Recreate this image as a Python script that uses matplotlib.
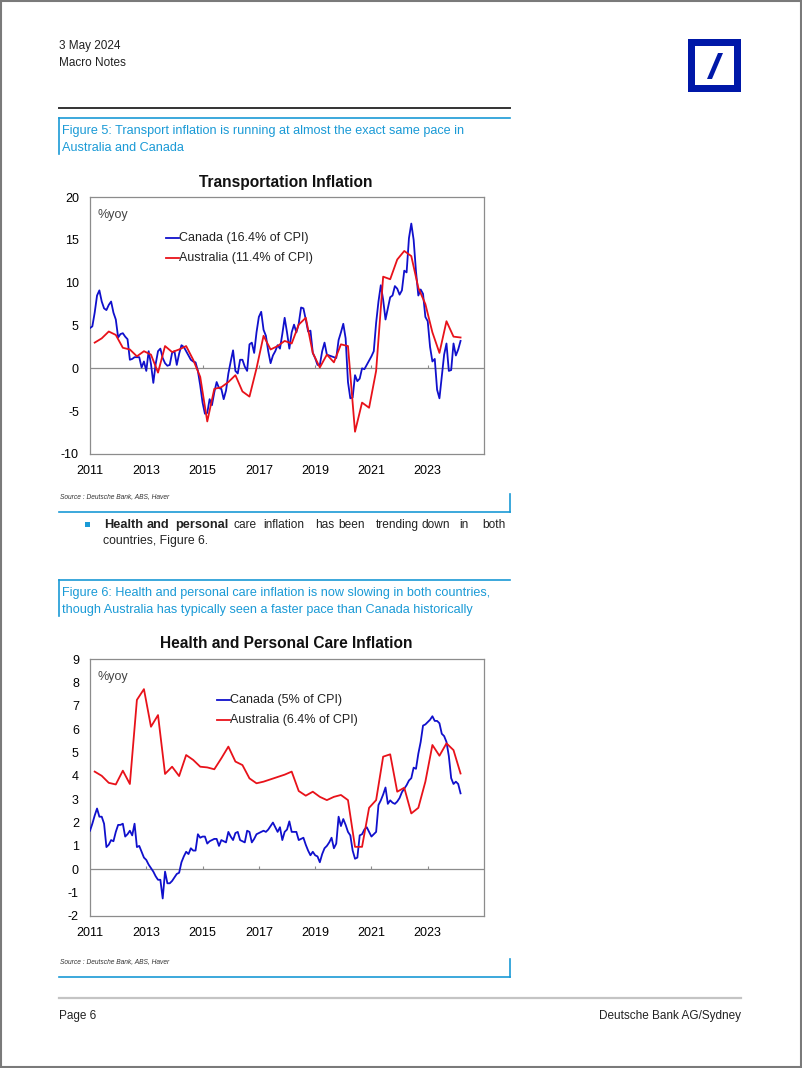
import numpy as np
import matplotlib
matplotlib.use('Agg')
import matplotlib.pyplot as plt
from matplotlib.patches import Rectangle, Polygon

# ---- data ----
# Canada: monthly, Jan 2011 - Mar 2024
canada_transport = [
    4.7, 4.9, 6.5, 8.5, 9.1, 7.8, 7.0, 6.8, 7.4, 7.8, 6.5, 5.7,
    3.6, 4.0, 4.1, 3.7, 3.4, 1.0, 1.1, 1.3, 1.3, 1.3, 0.1, 0.8,
    -0.3, 2.0, 0.5, -1.7, 0.5, 2.0, 2.3, 1.2, 0.6, 0.3, 0.4, 1.8,
    2.0, 0.4, 1.7, 2.7, 2.5, 2.0, 1.5, 1.0, 0.8, 0.7, -0.3, -2.0,
    -4.0, -5.3, -5.2, -3.6, -4.3, -2.8, -1.6, -2.3, -2.4, -3.6, -2.6, -0.6,
    0.8, 2.1, -0.3, -0.6, 1.0, 1.0, 0.2, -0.3, 2.8, 3.0, 1.8, 4.2,
    6.0, 6.6, 4.5, 3.8, 2.0, 0.6, 1.5, 2.0, 2.7, 2.3, 4.0, 5.9,
    4.2, 2.3, 4.2, 5.1, 4.2, 5.2, 7.1, 7.0, 5.7, 4.3, 4.4, 1.8,
    1.2, 0.4, 0.4, 2.0, 3.0, 1.6, 1.5, 1.4, 1.3, 1.2, 3.3, 4.2,
    5.2, 3.5, -1.6, -3.5, -3.4, -0.8, -1.5, -1.2, 0.0, -0.1, 0.4, 0.9,
    1.4, 2.0, 5.3, 7.8, 9.7, 8.0, 5.7, 7.0, 8.3, 8.5, 9.6, 9.3,
    8.6, 9.1, 11.4, 11.2, 15.2, 16.9, 15.0, 11.3, 8.5, 9.2, 8.7, 6.0,
    5.5, 2.5, 0.8, 1.1, -2.5, -3.5, -1.0, 1.6, 2.9, -0.3, -0.2, 2.9,
    1.5, 2.2, 3.2,
]
canada_health = [
    1.65, 1.95, 2.3, 2.6, 2.25, 2.25, 1.95, 0.95, 1.05, 1.25, 1.2, 1.6,
    1.9, 1.9, 1.95, 1.4, 1.5, 1.65, 1.45, 1.95, 0.95, 1.0, 0.75, 0.5,
    0.4, 0.2, 0.05, -0.1, -0.3, -0.45, -0.45, -1.25, -0.1, -0.6, -0.6, -0.5,
    -0.35, -0.2, -0.15, 0.3, 0.55, 0.75, 0.65, 0.9, 0.8, 0.8, 1.5, 1.35,
    1.4, 1.4, 1.1, 1.2, 1.25, 1.3, 1.3, 1.0, 1.25, 1.2, 1.15, 1.6,
    1.4, 1.25, 1.55, 1.6, 1.25, 1.2, 1.15, 1.65, 1.6, 1.15, 1.3, 1.5,
    1.55, 1.6, 1.65, 1.6, 1.7, 1.85, 2.0, 1.8, 1.6, 1.8, 1.25, 1.6,
    1.7, 2.05, 1.6, 1.6, 1.6, 1.25, 1.3, 1.35, 1.05, 0.8, 0.6, 0.75,
    0.6, 0.55, 0.3, 0.65, 0.9, 1.0, 1.15, 1.35, 0.9, 1.1, 2.25, 1.85,
    2.15, 1.9, 1.6, 1.45, 0.8, 0.45, 0.5, 1.45, 1.5, 1.7, 1.8, 1.6,
    1.4, 1.5, 1.6, 2.75, 2.95, 3.2, 3.5, 2.8, 2.95, 2.85, 2.8, 2.9,
    3.05, 3.3, 3.45, 3.6, 3.8, 3.9, 4.35, 4.3, 4.95, 5.45, 6.15, 6.2,
    6.3, 6.4, 6.55, 6.35, 6.35, 6.25, 5.8, 5.7, 5.45, 4.85, 3.9, 3.65,
    3.75, 3.65, 3.25,
]
# Australia: quarterly, Mar 2011 - Mar 2024
australia_transport = [
    3.0, 3.5, 4.3, 3.9, 2.4, 2.2, 1.4, 2.0, 1.6, -0.5, 2.6, 1.9,
    2.2, 2.6, 1.0, -1.0, -6.2, -2.4, -2.2, -1.6, -0.8, -2.7, -3.3, 0.0,
    3.8, 2.2, 2.6, 3.2, 2.9, 5.1, 5.9, 1.8, 0.1, 1.6, 0.7, 2.8,
    2.6, -7.4, -4.0, -4.6, -0.3, 10.7, 10.4, 12.7, 13.7, 13.1, 9.4, 7.5,
    4.2, 1.8, 5.5, 3.7, 3.6,
]
australia_health = [
    4.18, 4.0, 3.7, 3.63, 4.22, 3.65, 7.25, 7.71, 6.1, 6.6, 4.08, 4.39,
    3.99, 4.89, 4.68, 4.39, 4.36, 4.28, 4.75, 5.25, 4.61, 4.46, 3.89, 3.68,
    3.75, 3.85, 3.95, 4.05, 4.18, 3.35, 3.15, 3.32, 3.1, 2.96, 3.1, 3.18,
    2.96, 0.96, 0.96, 2.63, 2.96, 4.82, 4.92, 3.32, 3.49, 2.39, 2.63, 3.75,
    5.32, 4.86, 5.39, 5.1, 4.1,
]
year_ticks = [2011, 2013, 2015, 2017, 2019, 2021, 2023]

canada_x = 2011 + np.arange(len(canada_transport)) / 12
australia_x = 2011 + (2 + 3 * np.arange(len(australia_transport))) / 12

W, H = 802, 1068
BLUE_TXT = '#1a9ad6'
LINE_BLUE = '#1010cc'
LINE_RED = '#e8121a'
GREY = '#8c8c8c'

plt.rcParams['font.family'] = ['Liberation Sans', 'DejaVu Sans']

fig = plt.figure(figsize=(W / 100, H / 100), dpi=100)


def fx(x):
    return x / W


def fy(y):
    return 1 - y / H


def ftext(x, y, s, **kw):
    kw.setdefault('va', 'center')
    fig.text(fx(x), fy(y), s, **kw)


def fline(x0, y0, x1, y1, color, lw):
    fig.add_artist(plt.Line2D([fx(x0), fx(x1)], [fy(y0), fy(y1)],
                              color=color, lw=lw, transform=fig.transFigure))


# page border
fig.add_artist(Rectangle((0.001, 0.001), 0.998, 0.998, fill=False,
                         ec='#7a7a7a', lw=1.5, transform=fig.transFigure))

# header
ftext(59, 46, '3 May 2024', fontsize=8.5, color='#222222')
ftext(59, 63, 'Macro Notes', fontsize=8.5, color='#222222')

# logo
fig.add_artist(Rectangle((fx(688), fy(92)), fx(741) - fx(688), fy(39) - fy(92),
                         fc='#0018a8', ec='none', transform=fig.transFigure))
fig.add_artist(Rectangle((fx(695), fy(85)), fx(734) - fx(695), fy(46) - fy(85),
                         fc='white', ec='none', transform=fig.transFigure))
fig.add_artist(Polygon([(fx(707), fy(79)), (fx(712), fy(79)), (fx(723), fy(53)), (fx(718), fy(53))],
                       closed=True, fc='#0018a8', ec='none', transform=fig.transFigure))

fline(59, 108, 510, 108, '#333333', 1.4)


def caption_box(ytop, lines):
    fline(59, ytop, 510, ytop, BLUE_TXT, 1.2)
    fline(59, ytop, 59, ytop + 36, BLUE_TXT, 1.2)
    for k, s in enumerate(lines):
        ftext(62, ytop + 13 + 17 * k, s, fontsize=9.1, color=BLUE_TXT)


def source_box(ysrc):
    ftext(60, ysrc, 'Source : Deutsche Bank, ABS, Haver', fontsize=4.8,
          style='italic', color='#333333')
    fline(510, ysrc - 3, 510, ysrc + 15, BLUE_TXT, 1.2)
    fline(59, ysrc + 15, 510, ysrc + 15, BLUE_TXT, 1.2)


def make_chart(ytop, ybot, title, ca, au, ylim, yticks, legend_x, leg_ca, leg_au):
    ax = fig.add_axes([fx(90), fy(ybot), fx(484) - fx(90), fy(ytop) - fy(ybot)])
    ax.plot(canada_x, ca, color=LINE_BLUE, lw=1.3, zorder=3)
    ax.plot(australia_x, au, color=LINE_RED, lw=1.3, zorder=3)
    ax.axhline(0, color=GREY, lw=0.9, zorder=1)
    span = ylim[1] - ylim[0]
    ax.vlines(year_ticks[1:], 0, span * 0.012, color=GREY, lw=0.8)
    ax.set_xlim(2011, 2025)
    ax.set_ylim(*ylim)
    ax.set_xticks(year_ticks)
    ax.set_xticklabels([str(y) for y in year_ticks], fontsize=9)
    ax.set_yticks(yticks)
    ax.set_yticklabels([str(v) for v in yticks], fontsize=9)
    ax.tick_params(length=0, pad=8)
    ax.tick_params(axis='x', pad=8)
    for sp in ax.spines.values():
        sp.set_color(GREY)
        sp.set_linewidth(0.9)
    ax.text(0.018, 0.955, '%yoy', transform=ax.transAxes, fontsize=9,
            color='#444444', va='top')
    # legend entries
    for k, (lab, col) in enumerate([(leg_ca, LINE_BLUE), (leg_au, LINE_RED)]):
        yy = 0.84 - 0.078 * k
        ax.plot([legend_x, legend_x + 0.032], [yy, yy], color=col, lw=1.3,
                transform=ax.transAxes)
        ax.text(legend_x + 0.033, yy, lab, transform=ax.transAxes, fontsize=9,
                va='center', color='#222222')
    ftext(286, ytop - 15, title, fontsize=11.2, fontweight='bold', ha='center',
          color='#111111')
    return ax


# Figure 5
caption_box(118, ['Figure 5: Transport inflation is running at almost the exact same pace in',
                  'Australia and Canada'])
make_chart(197, 454, 'Transportation Inflation', canada_transport, australia_transport,
           (-10, 20), [-10, -5, 0, 5, 10, 15, 20], 0.193,
           'Canada (16.4% of CPI)', 'Australia (11.4% of CPI)')
source_box(497)

# bullet text
fig.add_artist(Rectangle((fx(85), fy(527)), fx(4.5), fy(0) - fy(4.5), fc=BLUE_TXT,
                         ec='none', transform=fig.transFigure))
words = [(104, 'Health', True), (147, 'and', True), (175, 'personal', True),
         (233, 'care', False), (263, 'inflation', False), (315, 'has', False),
         (338, 'been', False), (376, 'trending', False), (421, 'down', False),
         (459, 'in', False), (482, 'both', False)]
for x, w, b in words:
    ftext(x, 525, w, fontsize=9.2 if b else 8.6,
          fontweight='bold' if b else 'normal', color='#222222')
ftext(103, 541, 'countries, Figure 6.', fontsize=8.8, color='#222222')

# Figure 6
caption_box(580, ['Figure 6: Health and personal care inflation is now slowing in both countries,',
                  'though Australia has typically seen a faster pace than Canada historically'])
make_chart(659, 916, 'Health and Personal Care Inflation', canada_health, australia_health,
           (-2, 9), list(range(-2, 10)), 0.323,
           'Canada (5% of CPI)', 'Australia (6.4% of CPI)')
source_box(962)

# footer
fline(59, 998, 741, 998, '#c4c4c4', 1.6)
ftext(59, 1016, 'Page 6', fontsize=8.5, color='#222222')
ftext(741, 1016, 'Deutsche Bank AG/Sydney', fontsize=8.5, color='#222222', ha='right')

fig.savefig('out.png', dpi=100)
